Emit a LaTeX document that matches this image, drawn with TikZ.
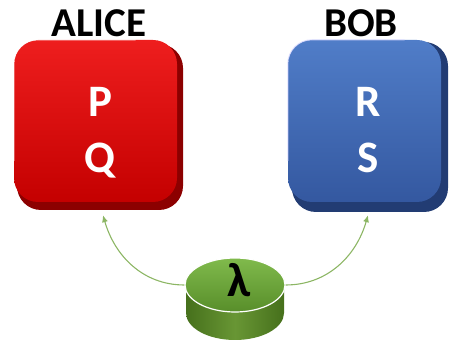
\documentclass[tikz,border=0pt]{standalone}
\usepackage{fontspec}
\setmainfont{Carlito}
\usetikzlibrary{arrows.meta,shapes.geometric}
\definecolor{redtop}{RGB}{238,30,30}
\definecolor{redmid}{RGB}{220,4,4}
\definecolor{redbot}{RGB}{196,0,0}
\definecolor{redback}{RGB}{140,0,0}
\definecolor{bluetop}{RGB}{80,125,200}
\definecolor{bluemid}{RGB}{62,102,178}
\definecolor{bluebot}{RGB}{52,88,160}
\definecolor{blueback}{RGB}{34,60,115}
\definecolor{greentop}{RGB}{128,186,76}
\definecolor{greenbot}{RGB}{88,142,42}
\definecolor{greenside}{RGB}{70,112,28}
\definecolor{greensidelight}{RGB}{104,150,52}
\definecolor{arrgreen}{RGB}{140,182,100}
\begin{document}
\begin{tikzpicture}[
  facebox/.style={rectangle, rounded corners=24pt, draw=none, minimum height=162pt},
  title/.style={font=\bfseries\fontsize{41}{41}\selectfont, text=black, anchor=base, inner sep=0pt},
  lettr/.style={font=\bfseries\fontsize{45}{45}\selectfont, text=white, anchor=base, inner sep=0pt},
  arr/.style={draw=arrgreen, line width=1.1pt, -{Latex[length=7pt,width=6pt]}}
]
\useasboundingbox (0,0) rectangle (452pt,352pt);
\begin{scope}[x=1pt,y=1pt]
% ALICE box
\fill[redback, rounded corners=24pt] (17,308) rectangle (183,142);
\node[facebox, minimum width=163pt, top color=redtop, middle color=redmid, bottom color=redbot] (alice) at (95.5,231) {};
\draw[white, line width=1pt, rounded corners=24pt, opacity=0.85] ([yshift=-40pt]alice.west) -- (alice.north west) -- ([xshift=40pt]alice.north);
\node[title] (alicet) at (99,315) {ALICE};
\node[lettr] (p) at (100,235) {P};
\node[lettr] (q) at (100,179) {Q};
% BOB box
\fill[blueback, rounded corners=24pt] (292,310) rectangle (448,140);
\node[facebox, minimum width=153pt, top color=bluetop, middle color=bluemid, bottom color=bluebot] (bob) at (364.5,231) {};
\draw[white!85!blue, line width=1pt, rounded corners=24pt, opacity=0.8] ([yshift=-40pt]bob.west) -- (bob.north west) -- ([xshift=40pt]bob.north);
\node[title] (bobt) at (361,315) {BOB};
\node[lettr] (r) at (368,235) {R};
\node[lettr] (s) at (368,179) {S};
% lambda puck
\shade[left color=greenside, right color=greenside, middle color=greensidelight]
  (186,67) -- (186,39) arc[start angle=180, end angle=360, x radius=49, y radius=27] -- (284,67) -- cycle;
\node[ellipse, minimum width=100pt, minimum height=54pt, inner sep=0pt, top color=greentop, bottom color=greenbot, draw=white, line width=1.2pt] (lam) at (235,67) {};
\node[font=\bfseries\fontsize{48}{48}\selectfont, text=black, anchor=base, inner sep=0pt] (lamt) at (239,55) {λ};
% arrows
\draw[arr] (lam.west) to[out=180, in=-74] ([xshift=7.5pt,yshift=-13pt]alice.south);
\draw[arr] (lam.east) to[out=0, in=-106] ([xshift=3.5pt,yshift=-13pt]bob.south);
\end{scope}
\end{tikzpicture}
\end{document}
